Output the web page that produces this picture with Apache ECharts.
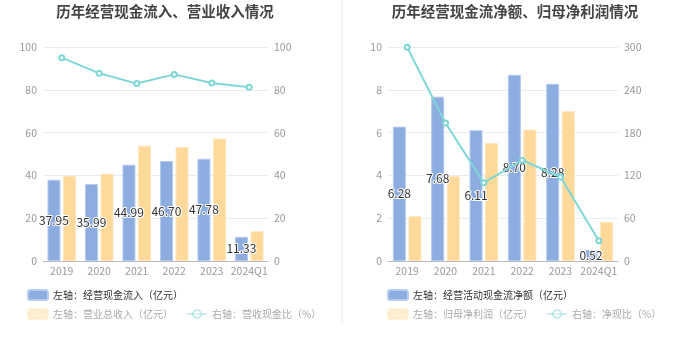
<!DOCTYPE html>
<html><head><meta charset="utf-8">
<script src="https://cdn.jsdelivr.net/npm/echarts@6/dist/echarts.min.js"></script>
<style>html,body{margin:0;padding:0;background:#fff}#c{width:680px;height:349px}</style>
</head><body><div id="c"></div>
<script>
const categories = ['2019','2020','2021','2022','2023','2024Q1'];
// left chart
const cashInflow = [37.95, 35.99, 44.99, 46.70, 47.78, 11.33];
const revenue = [39.7, 40.8, 53.9, 53.3, 57.2, 13.9];
const cashRevenueRatio = [95.0, 87.7, 82.9, 87.2, 83.2, 81.2];
// right chart
const netCashFlow = [6.28, 7.68, 6.11, 8.70, 8.28, 0.52];
const netProfit = [2.09, 3.96, 5.51, 6.14, 7.00, 1.82];
const netCashRatio = [299.5, 193.5, 109.8, 141.2, 117.8, 28.5];
const leftTicks = {min: 0, max: 100, interval: 20};
const rightLeftTicks = {min: 0, max: 10, interval: 2};
const rightRightTicks = {min: 0, max: 300, interval: 60};

const FONT = '"Noto Sans CJK SC", "Noto Sans", sans-serif';
const BLUE = '#8dade0', ORANGE = '#ffd999', TEAL = '#7fd6d6';
const names = {
  a1: '左轴：经营现金流入（亿元）', a2: '左轴：营业总收入（亿元）', a3: '右轴：营收现金比（%）',
  b1: '左轴：经营活动现金流净额（亿元）', b2: '左轴：归母净利润（亿元）', b3: '右轴：净现比（%）'
};
function yAxis(grid, t, showSplit, pos) {
  return {
    type: 'value', gridIndex: grid, position: pos, min: t.min, max: t.max, interval: t.interval,
    axisLine: {show: false}, axisTick: {show: false},
    axisLabel: {color: '#999', fontSize: 10.5, margin: 6, fontFamily: FONT},
    splitLine: {show: showSplit, lineStyle: {color: '#e6ebf5'}}
  };
}
function xAxis(grid) {
  return {
    type: 'category', gridIndex: grid, data: categories,
    axisLine: {lineStyle: {color: '#bbb'}},
    axisTick: {alignWithLabel: true, length: 4, lineStyle: {color: '#bbb'}},
    axisLabel: {color: '#999', fontSize: 10.5, margin: 5, interval: 0, fontFamily: FONT}
  };
}
const barLabel = {show: true, position: 'inside', color: '#333', fontSize: 12, fontFamily: FONT,
  textBorderColor: '#fff', textBorderWidth: 2, formatter: (p) => Number(p.value).toFixed(2)};
function legend(left, top, items) {
  return {
    left: left, top: top, width: 320, itemWidth: 20, itemHeight: 10, itemGap: 13, padding: 0,
    textStyle: {fontSize: 10, fontFamily: FONT, color: '#333'},
    data: items
  };
}
const dim = (n) => ({name: n, textStyle: {color: '#aaa'}, itemStyle: {opacity: 0.45}, lineStyle: {opacity: 0.45}});

const chart = echarts.init(document.getElementById('c'));
chart.setOption({
  animation: false,
  title: [
    {text: '历年经营现金流入、营业收入情况', left: 165, top: 4, padding: 0, textAlign: 'center',
     textStyle: {fontSize: 14.5, fontWeight: 'bold', color: '#444', fontFamily: FONT}},
    {text: '历年经营现金流净额、归母净利润情况', left: 515, top: 4, padding: 0, textAlign: 'center',
     textStyle: {fontSize: 14.5, fontWeight: 'bold', color: '#444', fontFamily: FONT}}
  ],
  graphic: [{type: 'line', shape: {x1: 342, y1: 0, x2: 342, y2: 325}, style: {stroke: '#eee', lineWidth: 1}}],
  legend: [
    legend(27, 289, [{name: names.a1}]),
    legend(27, 308, [dim(names.a2), dim(names.a3)]),
    legend(387, 289, [{name: names.b1}]),
    legend(387, 308, [dim(names.b2), dim(names.b3)])
  ],
  grid: [
    {left: 43, right: 412, top: 47, bottom: 88},
    {left: 388, right: 62, top: 47, bottom: 88}
  ],
  xAxis: [xAxis(0), xAxis(1)],
  yAxis: [
    yAxis(0, leftTicks, true, 'left'), yAxis(0, leftTicks, false, 'right'),
    yAxis(1, rightLeftTicks, true, 'left'), yAxis(1, rightRightTicks, false, 'right')
  ],
  series: [
    {name: names.a1, type: 'bar', xAxisIndex: 0, yAxisIndex: 0, data: cashInflow, barWidth: 13, barGap: '20%',
     itemStyle: {color: BLUE, borderColor: '#b5cbef', borderWidth: 1}, label: barLabel},
    {name: names.a2, type: 'bar', xAxisIndex: 0, yAxisIndex: 0, data: revenue, barWidth: 13, barGap: '20%',
     itemStyle: {color: ORANGE, borderColor: '#ffe6bd', borderWidth: 1}},
    {name: names.a3, type: 'line', xAxisIndex: 0, yAxisIndex: 1, data: cashRevenueRatio,
     symbol: 'emptyCircle', symbolSize: 5, lineStyle: {color: TEAL, width: 2}, itemStyle: {color: TEAL}},
    {name: names.b1, type: 'bar', xAxisIndex: 1, yAxisIndex: 2, data: netCashFlow, barWidth: 13, barGap: '20%',
     itemStyle: {color: BLUE, borderColor: '#b5cbef', borderWidth: 1}, label: barLabel},
    {name: names.b2, type: 'bar', xAxisIndex: 1, yAxisIndex: 2, data: netProfit, barWidth: 13, barGap: '20%',
     itemStyle: {color: ORANGE, borderColor: '#ffe6bd', borderWidth: 1}},
    {name: names.b3, type: 'line', xAxisIndex: 1, yAxisIndex: 3, data: netCashRatio,
     symbol: 'emptyCircle', symbolSize: 5, lineStyle: {color: TEAL, width: 2}, itemStyle: {color: TEAL}}
  ]
});
</script></body></html>
